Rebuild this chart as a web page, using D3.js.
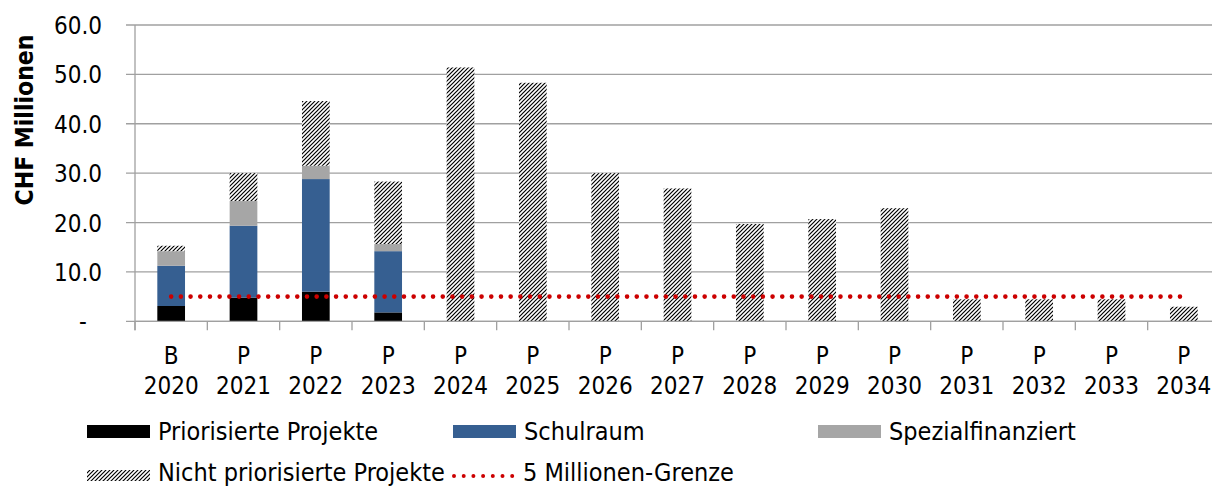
<!DOCTYPE html>
<html>
<head>
<meta charset="utf-8">
<script src="https://cdn.jsdelivr.net/npm/d3@7/dist/d3.min.js"></script>
<style>
  html, body { margin: 0; padding: 0; background: #fff; }
  svg { display: block; }
  text { font-family: "DejaVu Sans Condensed", "DejaVu Sans", sans-serif; font-stretch: condensed; fill: #000; }
</style>
</head>
<body>
<svg id="chart" width="1212" height="486"></svg>
<script>
const categories = ["2020","2021","2022","2023","2024","2025","2026","2027","2028","2029","2030","2031","2032","2033","2034"];
const prefixes   = ["B","P","P","P","P","P","P","P","P","P","P","P","P","P","P"];
const priorisiert = [3.1, 4.8, 6.0, 1.8, 0, 0, 0, 0, 0, 0, 0, 0, 0, 0, 0];
const schulraum   = [8.15, 14.55, 22.8, 12.4, 0, 0, 0, 0, 0, 0, 0, 0, 0, 0, 0];
const spezial     = [2.95, 5.0, 2.7, 1.45, 0, 0, 0, 0, 0, 0, 0, 0, 0, 0, 0];
const nichtPrior  = [1.1, 5.65, 13.1, 12.65, 51.4, 48.3, 30.0, 26.9, 19.7, 20.7, 22.9, 4.45, 4.45, 4.45, 2.95];
const grenze = [5, 5, 5, 5, 5, 5, 5, 5, 5, 5, 5, 5, 5, 5, 5];
const yTicks = [0, 10, 20, 30, 40, 50, 60];
const seriesNames = ["Priorisierte Projekte", "Schulraum", "Spezialfinanziert", "Nicht priorisierte Projekte"];
const lineName = "5 Millionen-Grenze";
const yTitle = "CHF Millionen";

const svg = d3.select("#chart");
const pLeft = 135, pRight = 1220, pTop = 25, pBottom = 321.3;

const defs = svg.append("defs");
const pat = defs.append("pattern").attr("id", "hatch")
  .attr("patternUnits", "userSpaceOnUse").attr("width", 4).attr("height", 4);
pat.append("rect").attr("width", 4).attr("height", 4).attr("fill", "#fff");
pat.append("path").attr("d", "M-1,1 l2,-2 M0,4 l4,-4 M3,5 l2,-2")
  .attr("stroke", "#000").attr("stroke-width", 1.2);

const pI = 0.617;
const x = d3.scaleBand().domain(categories).range([pLeft, pRight]).paddingInner(pI).paddingOuter(pI / 2);
const y = d3.scaleLinear().domain([0, 60]).range([pBottom, pTop]);
const step = x.step();

// gridlines + y ticks
svg.append("g").selectAll("line").data(yTicks).join("line")
  .attr("x1", pLeft - 9).attr("x2", pRight)
  .attr("y1", d => y(d)).attr("y2", d => y(d))
  .attr("stroke", "#a0a0a0").attr("stroke-width", 1.3);

// y axis line
svg.append("line").attr("x1", pLeft).attr("x2", pLeft).attr("y1", pTop).attr("y2", pBottom + 9)
  .attr("stroke", "#a0a0a0").attr("stroke-width", 1.3);

// x ticks at band boundaries
svg.append("g").selectAll("line").data(categories).join("line")
  .attr("x1", d => x(d) - step * pI / 2).attr("x2", d => x(d) - step * pI / 2)
  .attr("y1", pBottom).attr("y2", pBottom + 9)
  .attr("stroke", "#a0a0a0").attr("stroke-width", 1.3);

// y tick labels
svg.append("g").selectAll("text").data(yTicks).join("text")
  .attr("x", d => d === 0 ? 83 : 102)
  .attr("y", d => y(d) + 9)
  .attr("text-anchor", d => d === 0 ? "middle" : "end")
  .attr("font-size", 24)
  .text(d => d === 0 ? "-" : d.toFixed(1));

// y title
svg.append("text")
  .attr("transform", `translate(33,120) rotate(-90)`)
  .attr("text-anchor", "middle")
  .attr("font-size", 24.5).attr("font-weight", "bold")
  .text(yTitle);

// stacked bars
const rows = categories.map((c, i) => ({ cat: c, a: priorisiert[i], b: schulraum[i], c: spezial[i], d: nichtPrior[i] }));
const stacked = d3.stack().keys(["a", "b", "c", "d"])(rows);
const fills = ["#000000", "#365f91", "#a6a6a6", "url(#hatch)"];
svg.append("g").selectAll("g").data(stacked).join("g")
  .attr("fill", (d, i) => fills[i])
  .selectAll("rect").data(d => d.filter(s => s[1] - s[0] > 0)).join("rect")
  .attr("x", d => x(d.data.cat))
  .attr("width", x.bandwidth())
  .attr("y", d => y(d[1]))
  .attr("height", d => y(d[0]) - y(d[1]));

// x axis line
svg.append("line").attr("x1", pLeft).attr("x2", pRight).attr("y1", pBottom).attr("y2", pBottom)
  .attr("stroke", "#a0a0a0").attr("stroke-width", 1.3);

// 5 Mio line
const line = d3.line().x((d, i) => x(categories[i]) + x.bandwidth() / 2).y(d => y(d));
svg.append("path").datum(grenze).attr("d", line)
  .attr("fill", "none").attr("stroke", "#cc0000").attr("stroke-width", 4.6)
  .attr("stroke-linecap", "round").attr("stroke-dasharray", "0 9.7");

// x labels
const xl = svg.append("g").selectAll("text").data(categories).join("text")
  .attr("text-anchor", "middle").attr("font-size", 24);
xl.append("tspan").attr("x", d => x(d) + x.bandwidth() / 2).attr("y", 364).text((d, i) => prefixes[i]);
xl.append("tspan").attr("x", d => x(d) + x.bandwidth() / 2).attr("y", 394).text(d => d);

// legend
const legendItems = [
  { name: seriesNames[0], type: "rect", fill: fills[0], col: 0, row: 0 },
  { name: seriesNames[1], type: "rect", fill: fills[1], col: 1, row: 0 },
  { name: seriesNames[2], type: "rect", fill: fills[2], col: 2, row: 0 },
  { name: seriesNames[3], type: "hatch", fill: fills[3], col: 0, row: 1 },
  { name: lineName, type: "line", col: 1, row: 1 }
];
const colX = [87, 453, 818];
const rowY = [440, 481];
const lg = svg.append("g").selectAll("g").data(legendItems).join("g")
  .attr("transform", d => `translate(${colX[d.col]},${rowY[d.row]})`);
lg.filter(d => d.type === "rect").append("rect")
  .attr("x", 0).attr("y", -15).attr("width", 63).attr("height", 13).attr("fill", d => d.fill);
lg.filter(d => d.type === "hatch").append("rect")
  .attr("x", 0).attr("y", -11).attr("width", 63).attr("height", 11).attr("fill", d => d.fill);
lg.filter(d => d.type === "line").append("line")
  .attr("x1", 1).attr("x2", 61).attr("y1", -5).attr("y2", -5)
  .attr("stroke", "#cc0000").attr("stroke-width", 4).attr("stroke-linecap", "round")
  .attr("stroke-dasharray", "0 9.7");
lg.append("text").attr("x", d => d.type === "line" ? 70 : 71).attr("y", 0)
  .attr("font-size", 25).text(d => d.name);
</script>
</body>
</html>
